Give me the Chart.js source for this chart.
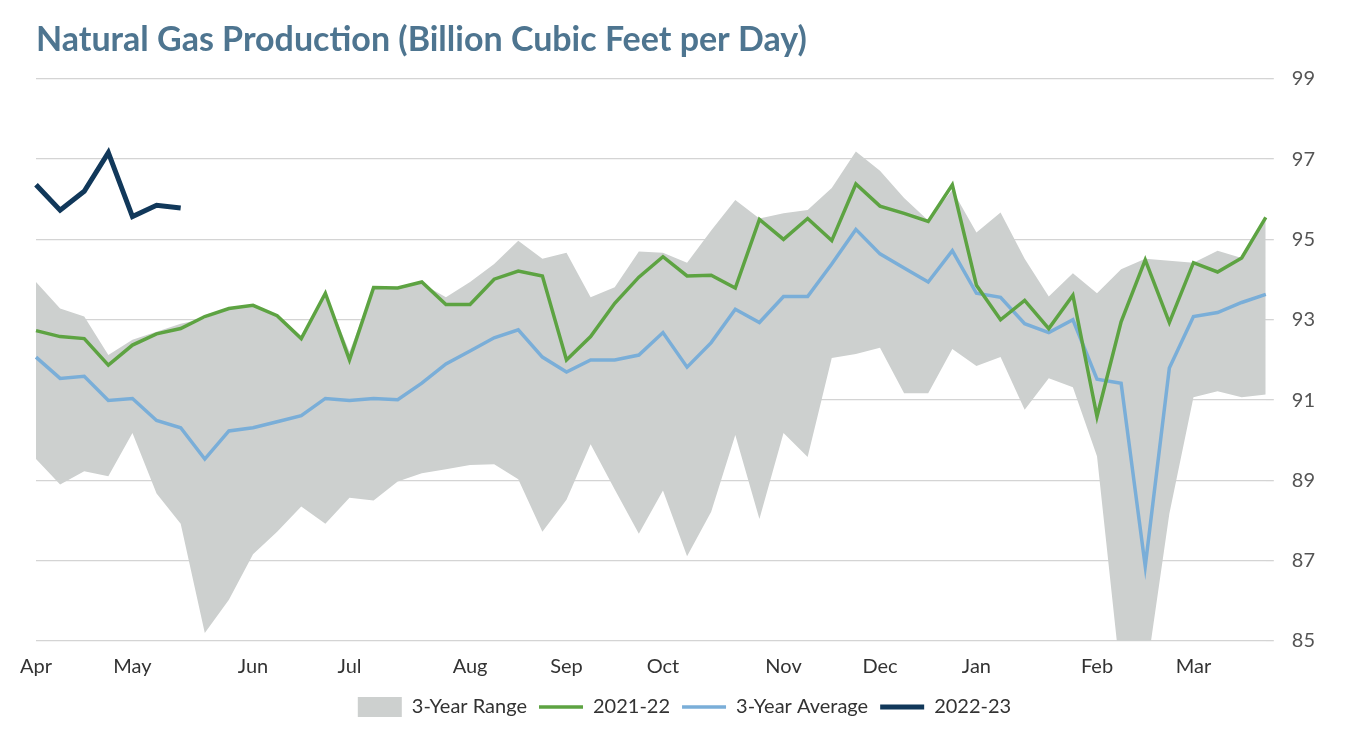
<!DOCTYPE html>
<html>
<head>
<meta charset="utf-8">
<script src="https://cdn.jsdelivr.net/npm/chart.js@4"></script>
<style>
  html, body { margin: 0; padding: 0; background: #fff; }
  #wrap { width: 1355px; height: 729px; }
</style>
</head>
<body>
<div id="wrap"><canvas id="gasChart"></canvas></div>
<script>
// Weekly points, Apr through Mar
const monthTicks = { 0: 'Apr', 4: 'May', 9: 'Jun', 13: 'Jul', 18: 'Aug', 22: 'Sep', 26: 'Oct', 31: 'Nov', 35: 'Dec', 39: 'Jan', 44: 'Feb', 48: 'Mar' };
const weeks = Array.from({ length: 52 }, (_, i) => monthTicks[i] || '');

const rangeHigh = [93.94, 93.28, 93.08, 92.12, 92.5, 92.7, 92.9, 93.03, 93.28, 93.36, 93.13, 92.58, 93.66, 92.2,
  93.79, 93.79, 93.9, 93.56, 93.94, 94.39, 94.97, 94.52, 94.67, 93.56, 93.81, 94.7, 94.67, 94.42, 95.22, 95.98,
  95.52, 95.65, 95.73, 96.28, 97.19, 96.71, 96.03, 95.47, 96.23, 95.17, 95.67, 94.52, 93.58, 94.16, 93.66, 94.26,
  94.52, 94.47, 94.42, 94.72, 94.54, 95.55];
const rangeLow = [89.53, 88.9, 89.23, 89.1, 90.18, 88.67, 87.92, 85.2, 86.03, 87.16, 87.72, 88.35, 87.92, 88.57,
  88.5, 88.97, 89.18, 89.28, 89.38, 89.4, 89.03, 87.72, 88.52, 89.9, 88.77, 87.67, 88.75, 87.11, 88.22, 90.13,
  88.04, 90.18, 89.58, 92.05, 92.15, 92.3, 91.17, 91.17, 92.27, 91.85, 92.07, 90.76, 91.54, 91.32, 89.6, 84.0,
  84.0, 88.17, 91.07, 91.22, 91.07, 91.14];
const prod2122 = [92.73, 92.58, 92.53, 91.87, 92.37, 92.65, 92.78, 93.08, 93.28, 93.36, 93.1, 92.53, 93.66, 92.0,
  93.8, 93.79, 93.94, 93.38, 93.38, 94.01, 94.21, 94.09, 92.0, 92.58, 93.41, 94.06, 94.57, 94.09, 94.11, 93.79,
  95.5, 95.0, 95.52, 94.97, 96.38, 95.83, 95.65, 95.45, 96.36, 93.86, 93.0, 93.48, 92.78, 93.61, 90.59, 92.95,
  94.49, 92.93, 94.42, 94.19, 94.54, 95.55];
const avg3yr = [92.07, 91.54, 91.59, 90.99, 91.04, 90.49, 90.31, 89.53, 90.23, 90.31, 90.46, 90.61, 91.04, 90.99,
  91.04, 91.01, 91.42, 91.9, 92.22, 92.55, 92.75, 92.07, 91.7, 92.0, 92.0, 92.12, 92.68, 91.82, 92.43, 93.26,
  92.93, 93.58, 93.58, 94.39, 95.25, 94.64, 94.29, 93.94, 94.72, 93.66, 93.56, 92.9, 92.68, 93.0, 91.52, 91.42,
  86.86, 91.8, 93.08, 93.18, 93.43, 93.63];
const prod2223 = [96.36, 95.73, 96.2, 97.16, 95.57, 95.85, 95.78];

const yTicks = [85, 87, 89, 91, 93, 95, 97, 99];

document.addEventListener('DOMContentLoaded', function() {
    const ctx = document.getElementById('gasChart').getContext('2d');
    new Chart(ctx, {
        type: 'line',
        data: {
            labels: weeks,
            datasets: [
                {
                    label: '3-Year Range', data: rangeHigh, order: 4,
                    borderWidth: 0, pointRadius: 0, fill: '+1',
                    backgroundColor: '#cdd0cf', borderColor: '#cdd0cf', pointStyle: 'rect'
                },
                {
                    label: 'low', data: rangeLow, order: 5,
                    borderWidth: 0, pointRadius: 0, fill: false,
                    backgroundColor: '#cdd0cf', borderColor: '#cdd0cf'
                },
                {
                    label: '2021-22', data: prod2122, order: 2,
                    borderColor: '#5da342', backgroundColor: '#5da342',
                    borderWidth: 3.5, pointRadius: 0, tension: 0, pointStyle: 'line'
                },
                {
                    label: '3-Year Average', data: avg3yr, order: 3,
                    borderColor: '#7aaed8', backgroundColor: '#7aaed8',
                    borderWidth: 3.5, pointRadius: 0, tension: 0, pointStyle: 'line'
                },
                {
                    label: '2022-23', data: prod2223, order: 1,
                    borderColor: '#11385a', backgroundColor: '#11385a',
                    borderWidth: 5, pointRadius: 0, tension: 0, pointStyle: 'line'
                }
            ]
        },
        options: {
            responsive: true,
            maintainAspectRatio: false,
            animation: false,
            layout: { padding: { left: 36, right: 22, top: 8, bottom: 2 } },
            plugins: {
                title: {
                    display: true,
                    text: 'Natural Gas Production (Billion Cubic Feet per Day)',
                    align: 'start',
                    color: '#4e7590',
                    font: { family: 'Lato', size: 34, weight: 'bold' },
                    padding: { top: 12, bottom: 18 }
                },
                legend: {
                    position: 'bottom',
                    labels: {
                        usePointStyle: true,
                        pointStyleWidth: 44,
                        color: '#333',
                        font: { family: 'Lato', size: 20 },
                        padding: 12,
                        filter: function(item) { return item.text !== 'low'; },
                        sort: function(a, b) { return a.datasetIndex - b.datasetIndex; }
                    }
                },
                tooltip: { enabled: false }
            },
            scales: {
                x: {
                    grid: { display: false },
                    border: { display: false },
                    ticks: {
                        autoSkip: false, maxRotation: 0,
                        color: '#333',
                        padding: 6,
                        font: { family: 'Lato', size: 20 }
                    }
                },
                y: {
                    position: 'right',
                    min: 85, max: 99,
                    afterBuildTicks: function(axis) {
                        axis.ticks = yTicks.map(v => ({ value: v }));
                    },
                    grid: { color: '#d4d4d4', lineWidth: 1.3 },
                    border: { display: false },
                    ticks: {
                        color: '#555',
                        padding: 18,
                        font: { family: 'Lato', size: 20 }
                    }
                }
            }
        }
    });
});
</script>
</body>
</html>
